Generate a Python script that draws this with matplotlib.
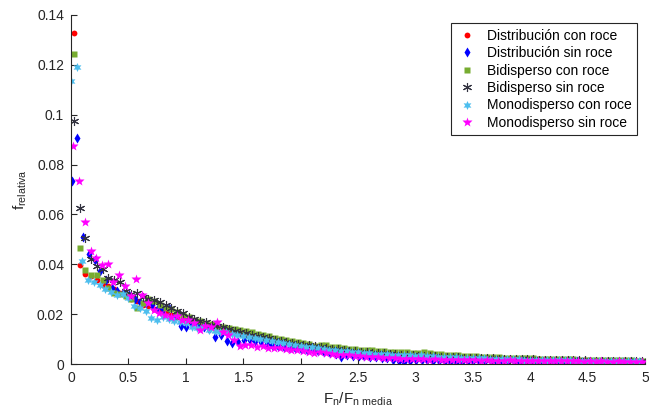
import numpy as np
import matplotlib
matplotlib.use('Agg')
import matplotlib.pyplot as plt
from matplotlib.ticker import FormatStrFormatter

plt.rcParams['font.family'] = ['Liberation Sans', 'DejaVu Sans']
plt.rcParams['mathtext.fontset'] = 'custom'
plt.rcParams['mathtext.rm'] = 'Liberation Sans'

bin_width = 0.05

# relative frequencies, one value per bin
red_offset = 0.025
red_y = [0.1327, 0.0398, 0.0362, 0.0352, 0.0335, 0.0318, 0.0312, 0.0301, 0.0283, 0.0272,
         0.0262, 0.0251, 0.0238, 0.0233, 0.0221, 0.0212, 0.0207, 0.0196, 0.0188, 0.0181,
         0.0172, 0.0169, 0.0161, 0.0156, 0.0149, 0.0147, 0.0139, 0.0131, 0.0127, 0.0121,
         0.0117, 0.0113, 0.0115, 0.0106, 0.0102, 0.0098, 0.0093, 0.0090, 0.0087, 0.0081,
         0.0078, 0.0075, 0.0071, 0.0069, 0.0066, 0.0062, 0.0060, 0.0058, 0.0055, 0.0052,
         0.0051, 0.0049, 0.0047, 0.0046, 0.0043, 0.0042, 0.0040, 0.0039, 0.0037, 0.0036,
         0.0035, 0.0034, 0.0032, 0.0031, 0.0031, 0.0029, 0.0029, 0.0028, 0.0027, 0.0026,
         0.0025, 0.0025, 0.0024, 0.0023, 0.0023, 0.0022, 0.0021, 0.0021, 0.0020, 0.0020,
         0.0019, 0.0019, 0.0018, 0.0018, 0.0017, 0.0017, 0.0016, 0.0016, 0.0016, 0.0015,
         0.0015, 0.0014, 0.0014, 0.0014, 0.0013, 0.0013, 0.0013, 0.0012, 0.0012, 0.0012]

blue_offset = 0.005
blue_y = [0.0734, 0.0907, 0.0511, 0.0441, 0.0417, 0.0374, 0.0338, 0.0306, 0.0291, 0.0284,
          0.0276, 0.0262, 0.0249, 0.0243, 0.0236, 0.0226, 0.0219, 0.0224, 0.0193, 0.0152,
          0.0150, 0.0162, 0.0156, 0.0149, 0.0141, 0.0109, 0.0118, 0.0093, 0.0085, 0.0089,
          0.0095, 0.0098, 0.0092, 0.0088, 0.0079, 0.0077, 0.0074, 0.0070, 0.0066, 0.0063,
          0.0060, 0.0058, 0.0055, 0.0051, 0.0049, 0.0046, 0.0041, 0.0029, 0.0038, 0.0034,
          0.0033, 0.0031, 0.0030, 0.0027, 0.0026, 0.0024, 0.0018, 0.0012, 0.0009, 0.0014,
          0.0016, 0.0018, 0.0015, 0.0013, 0.0014, 0.0011, 0.0008, 0.0005, 0.0009, 0.0011,
          0.0012, 0.0013, 0.0012, 0.0011, 0.0012, 0.0010, 0.0011, 0.0012, 0.0010, 0.0011,
          0.0012, 0.0010, 0.0011, 0.0009, 0.0010, 0.0011, 0.0009, 0.0010, 0.0011, 0.0009,
          0.0010, 0.0009, 0.0010, 0.0008, 0.0009, 0.0010, 0.0008, 0.0009, 0.0008, 0.0009]

green_offset = 0.025
green_y = [0.1245, 0.0464, 0.0377, 0.0357, 0.0359, 0.0338, 0.0306, 0.0285, 0.0281, 0.0274,
           0.0262, 0.0224, 0.0246, 0.0262, 0.0251, 0.0238, 0.0224, 0.0219, 0.0207, 0.0198,
           0.0189, 0.0178, 0.0172, 0.0166, 0.0160, 0.0154, 0.0150, 0.0145, 0.0141, 0.0138,
           0.0134, 0.0127, 0.0121, 0.0117, 0.0112, 0.0106, 0.0101, 0.0096, 0.0091, 0.0087,
           0.0083, 0.0080, 0.0074, 0.0078, 0.0075, 0.0070, 0.0067, 0.0064, 0.0062, 0.0060,
           0.0058, 0.0057, 0.0055, 0.0053, 0.0052, 0.0050, 0.0049, 0.0049, 0.0047, 0.0046,
           0.0045, 0.0047, 0.0044, 0.0041, 0.0040, 0.0038, 0.0036, 0.0035, 0.0034, 0.0032,
           0.0031, 0.0030, 0.0029, 0.0028, 0.0027, 0.0026, 0.0026, 0.0025, 0.0024, 0.0023,
           0.0023, 0.0022, 0.0021, 0.0021, 0.0020, 0.0020, 0.0019, 0.0019, 0.0018, 0.0018,
           0.0017, 0.0017, 0.0016, 0.0016, 0.0016, 0.0015, 0.0015, 0.0015, 0.0014, 0.0014]

black_offset = 0.025
black_y = [0.0975, 0.0626, 0.0504, 0.0420, 0.0395, 0.0380, 0.0344, 0.0336, 0.0329, 0.0294,
           0.0281, 0.0286, 0.0268, 0.0262, 0.0256, 0.0248, 0.0236, 0.0226, 0.0214, 0.0203,
           0.0190, 0.0180, 0.0174, 0.0168, 0.0158, 0.0154, 0.0147, 0.0141, 0.0134, 0.0128,
           0.0123, 0.0118, 0.0113, 0.0108, 0.0103, 0.0098, 0.0094, 0.0090, 0.0085, 0.0082,
           0.0078, 0.0075, 0.0071, 0.0068, 0.0065, 0.0062, 0.0059, 0.0057, 0.0054, 0.0052,
           0.0050, 0.0048, 0.0046, 0.0045, 0.0043, 0.0041, 0.0040, 0.0038, 0.0037, 0.0035,
           0.0034, 0.0033, 0.0032, 0.0031, 0.0030, 0.0029, 0.0028, 0.0027, 0.0026, 0.0025,
           0.0025, 0.0024, 0.0023, 0.0023, 0.0022, 0.0021, 0.0021, 0.0020, 0.0020, 0.0019,
           0.0019, 0.0018, 0.0018, 0.0017, 0.0017, 0.0016, 0.0016, 0.0016, 0.0015, 0.0015,
           0.0014, 0.0014, 0.0014, 0.0013, 0.0013, 0.0013, 0.0012, 0.0012, 0.0012, 0.0011]

cyan_offset = 0.0
cyan_y = [0.1135, 0.1190, 0.0412, 0.0337, 0.0328, 0.0315, 0.0302, 0.0290, 0.0277, 0.0282,
          0.0265, 0.0234, 0.0226, 0.0212, 0.0183, 0.0176, 0.0187, 0.0181, 0.0174, 0.0168,
          0.0163, 0.0150, 0.0143, 0.0149, 0.0138, 0.0132, 0.0127, 0.0128, 0.0120, 0.0116,
          0.0112, 0.0108, 0.0104, 0.0099, 0.0095, 0.0091, 0.0088, 0.0084, 0.0081, 0.0077,
          0.0073, 0.0070, 0.0067, 0.0064, 0.0061, 0.0058, 0.0056, 0.0053, 0.0051, 0.0049,
          0.0047, 0.0046, 0.0044, 0.0042, 0.0041, 0.0040, 0.0038, 0.0037, 0.0036, 0.0035,
          0.0034, 0.0035, 0.0033, 0.0032, 0.0030, 0.0029, 0.0028, 0.0027, 0.0026, 0.0025,
          0.0024, 0.0023, 0.0023, 0.0022, 0.0021, 0.0021, 0.0020, 0.0019, 0.0019, 0.0018,
          0.0018, 0.0017, 0.0017, 0.0016, 0.0016, 0.0016, 0.0015, 0.0015, 0.0014, 0.0014,
          0.0014, 0.0013, 0.0013, 0.0013, 0.0012, 0.0012, 0.0012, 0.0011, 0.0011, 0.0011]

magenta_offset = 0.02
magenta_y = [0.0875, 0.0734, 0.0570, 0.0453, 0.0425, 0.0398, 0.0401, 0.0330, 0.0356, 0.0313,
             0.0272, 0.0340, 0.0277, 0.0244, 0.0217, 0.0206, 0.0197, 0.0188, 0.0192, 0.0178,
             0.0177, 0.0163, 0.0136, 0.0152, 0.0148, 0.0167, 0.0128, 0.0118, 0.0098, 0.0072,
             0.0076, 0.0078, 0.0070, 0.0074, 0.0066, 0.0063, 0.0065, 0.0061, 0.0058, 0.0056,
             0.0054, 0.0050, 0.0045, 0.0047, 0.0043, 0.0040, 0.0038, 0.0036, 0.0035, 0.0033,
             0.0031, 0.0029, 0.0027, 0.0028, 0.0026, 0.0024, 0.0023, 0.0022, 0.0021, 0.0020,
             0.0021, 0.0019, 0.0018, 0.0019, 0.0017, 0.0016, 0.0016, 0.0017, 0.0015, 0.0015,
             0.0016, 0.0014, 0.0015, 0.0014, 0.0013, 0.0014, 0.0015, 0.0013, 0.0014, 0.0012,
             0.0013, 0.0012, 0.0014, 0.0012, 0.0011, 0.0013, 0.0012, 0.0011, 0.0012, 0.0010,
             0.0011, 0.0010, 0.0012, 0.0010, 0.0009, 0.0011, 0.0010, 0.0009, 0.0010, 0.0009]

labels = ['Distribución con roce', 'Distribución sin roce', 'Bidisperso con roce',
          'Bidisperso sin roce', 'Monodisperso con roce', 'Monodisperso sin roce']

series = [
    (red_offset, red_y, dict(marker='o', color='#ff0000', ms=4.2, mec='none')),
    (blue_offset, blue_y, dict(marker='d', color='#0000ff', ms=5.5, mec='none')),
    (green_offset, green_y, dict(marker='s', color='#77ac30', ms=4.5, mec='none')),
    (black_offset, black_y, dict(marker=(6, 2, 0), color='#333340', ms=6.5, mew=0.8)),
    (cyan_offset, cyan_y, dict(marker=(6, 1, 0), color='#4dbeee', ms=6.5, mec='none')),
    (magenta_offset, magenta_y, dict(marker='*', color='#ff00ff', ms=7.5, mec='none')),
]

fig = plt.figure(figsize=(6.49, 4.19), dpi=100)
ax = fig.add_axes([71 / 649, 55 / 419, 574 / 649, 349 / 419])

for (offset, ys, style), label in zip(series, labels):
    xs = offset + bin_width * np.arange(len(ys))
    ax.plot(xs, ys, linestyle='none', label=label, **style)

ax.set_xlim(0, 5)
ax.set_ylim(0, 0.14)
ax.set_xticks(np.arange(0, 5.01, 0.5))
ax.set_yticks(np.arange(0, 0.141, 0.02))
ax.xaxis.set_major_formatter(FormatStrFormatter('%g'))
ax.yaxis.set_major_formatter(FormatStrFormatter('%g'))
ax.spines['top'].set_visible(False)
ax.spines['right'].set_visible(False)
for s in ['left', 'bottom']:
    ax.spines[s].set_color('#262626')
    ax.spines[s].set_linewidth(0.8)
ax.tick_params(direction='in', length=4, width=0.8, colors='#262626', labelsize=10, pad=5)

ax.set_xlabel(r'F$_\mathregular{n}$/F$_\mathregular{n\ media}$', fontsize=11, color='#262626', labelpad=4)
ax.set_ylabel(r'f$_\mathregular{relativa}$', fontsize=11, color='#262626', labelpad=6)

leg = ax.legend(loc='upper right', bbox_to_anchor=(0.986, 0.977), borderaxespad=0,
                fontsize=10, fancybox=False, framealpha=1, edgecolor='#262626',
                labelspacing=0.25, handletextpad=0.6, handlelength=1.6, borderpad=0.4)
leg.get_frame().set_linewidth(0.8)

fig.savefig('out.png', dpi=100)
